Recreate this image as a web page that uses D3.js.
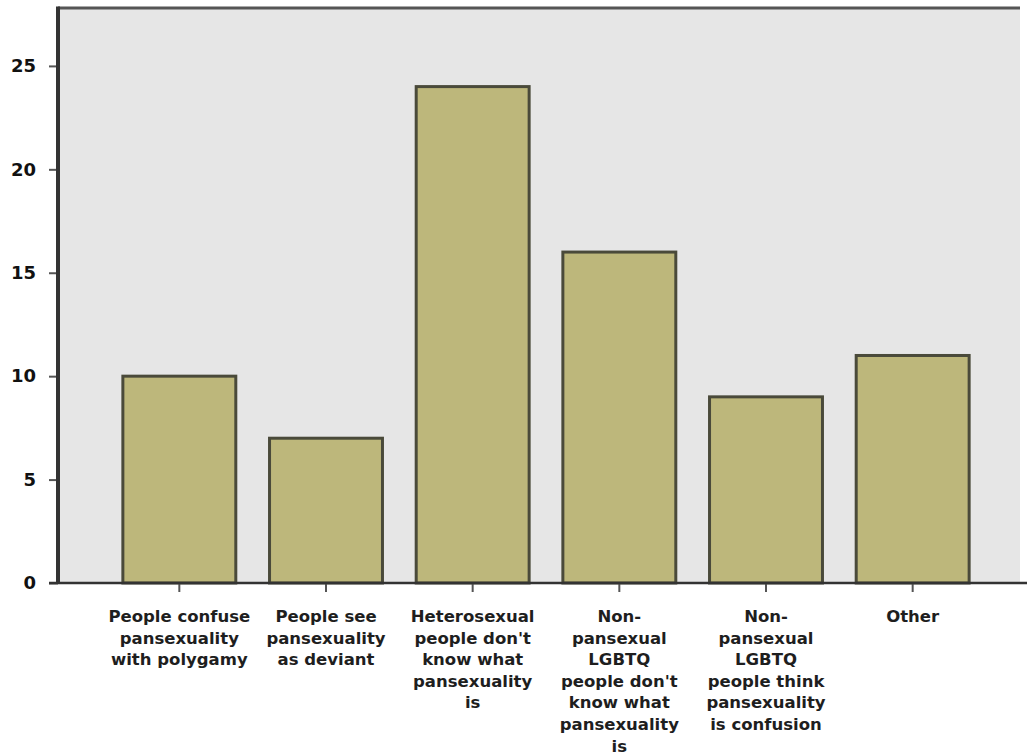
<!DOCTYPE html>
<html>
<head>
<meta charset="utf-8">
<script src="https://cdn.jsdelivr.net/npm/d3@7/dist/d3.min.js"></script>
<style>
  html, body { margin: 0; padding: 0; background: #ffffff; }
  svg { display: block; }
</style>
</head>
<body>
<svg id="chart" width="1027" height="756"></svg>
<script>
// Category labels, already broken into the lines they are shown on
const categories = [
  ["People confuse", "pansexuality", "with polygamy"],
  ["People see", "pansexuality", "as deviant"],
  ["Heterosexual", "people don't", "know what", "pansexuality", "is"],
  ["Non-", "pansexual", "LGBTQ", "people don't", "know what", "pansexuality", "is"],
  ["Non-", "pansexual", "LGBTQ", "people think", "pansexuality", "is confusion"],
  ["Other"]
];
const counts = [10, 7, 24, 16, 9, 11];
const yTicks = [0, 5, 10, 15, 20, 25];

const svg = d3.select("#chart");
const plot = { left: 58, right: 1020, top: 8, bottom: 583 };

const keys = categories.map((c, i) => i);
const x = d3.scaleBand()
  .domain(keys)
  .range([106, 986])
  .paddingInner(0.23)
  .paddingOuter(0.115);

const y = d3.scaleLinear()
  .domain([0, 27.8])
  .range([plot.bottom, plot.top]);

// plot background
svg.append("rect")
  .attr("x", plot.left).attr("y", plot.top)
  .attr("width", plot.right - plot.left)
  .attr("height", plot.bottom - plot.top)
  .attr("fill", "#e6e6e6");

// top frame line
svg.append("line")
  .attr("x1", plot.left).attr("x2", plot.right)
  .attr("y1", plot.top).attr("y2", plot.top)
  .attr("stroke", "#555").attr("stroke-width", 3);

// bars
svg.append("g").selectAll("rect")
  .data(counts)
  .join("rect")
  .attr("x", (d, i) => x(i))
  .attr("y", d => y(d))
  .attr("width", x.bandwidth())
  .attr("height", d => y(0) - y(d))
  .attr("fill", "#bdb77b")
  .attr("stroke", "#4a4a3a")
  .attr("stroke-width", 3);

// y axis
const yAxis = svg.append("g")
  .attr("transform", `translate(${plot.left},0)`)
  .call(d3.axisLeft(y).tickValues(yTicks).tickSize(9).tickPadding(13).tickSizeOuter(0));
yAxis.select(".domain").remove();
yAxis.selectAll(".tick line").attr("stroke", "#555").attr("stroke-width", 2);
yAxis.selectAll(".tick text")
  .attr("fill", "#111")
  .style("font-family", "'DejaVu Sans', sans-serif")
  .style("font-weight", "bold")
  .style("font-size", "18px");

svg.append("line")
  .attr("x1", plot.left).attr("x2", plot.left)
  .attr("y1", plot.top - 1.5).attr("y2", plot.bottom + 1)
  .attr("stroke", "#333").attr("stroke-width", 4);

// x axis
const xAxis = svg.append("g")
  .attr("transform", `translate(0,${plot.bottom})`)
  .call(d3.axisBottom(x).tickSize(9).tickSizeOuter(0).tickFormat(""));
xAxis.select(".domain").remove();
xAxis.selectAll(".tick line").attr("stroke", "#555").attr("stroke-width", 2);

svg.append("line")
  .attr("x1", plot.left - 9).attr("x2", plot.right + 7)
  .attr("y1", plot.bottom).attr("y2", plot.bottom)
  .attr("stroke", "#333").attr("stroke-width", 2.5);

// category labels
const lab = svg.append("g")
  .style("font-family", "'DejaVu Sans', sans-serif")
  .style("font-weight", "bold")
  .style("font-size", "16.5px")
  .attr("fill", "#1e1e1e")
  .attr("text-anchor", "middle");

categories.forEach((lines, i) => {
  const t = lab.append("text")
    .attr("x", x(i) + x.bandwidth() / 2)
    .attr("y", 622);
  lines.forEach((ln, j) => {
    t.append("tspan")
      .attr("x", x(i) + x.bandwidth() / 2)
      .attr("dy", j === 0 ? 0 : 21.6)
      .text(ln);
  });
});
</script>
</body>
</html>
